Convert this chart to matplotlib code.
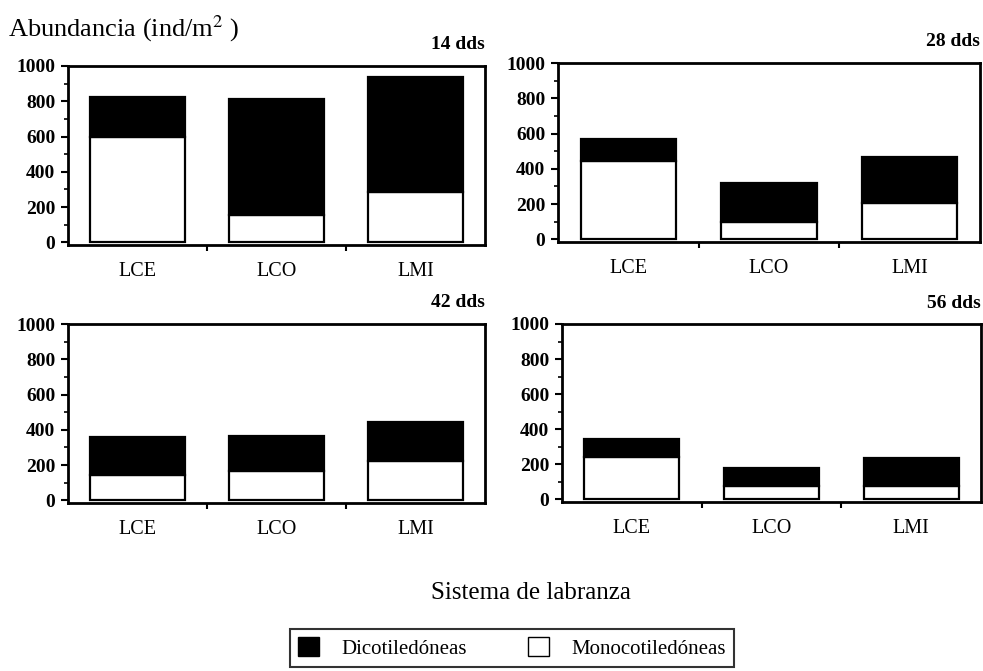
import matplotlib
matplotlib.use("Agg")
import matplotlib.pyplot as plt
from matplotlib.patches import Patch
from matplotlib.ticker import MultipleLocator, FixedLocator

categories = ["LCE", "LCO", "LMI"]
panel_titles = ["14 dds", "28 dds", "42 dds", "56 dds"]
# Monocotiledóneas (bottom, white) and total abundance per panel
mono = [
    [597, 156, 287],
    [447, 100, 208],
    [141, 169, 225],
    [241, 77, 77],
]
total = [
    [822, 812, 938],
    [568, 322, 466],
    [362, 366, 445],
    [345, 179, 235],
]
dico = [[t - m for t, m in zip(tt, mm)] for tt, mm in zip(total, mono)]

W, H = 983, 671
plt.rcParams['font.family'] = ['Liberation Serif', 'DejaVu Serif']
plt.rcParams['mathtext.fontset'] = 'stix'
fig = plt.figure(figsize=(W / 100, H / 100), dpi=100)

# axes boxes in pixel coords: left, right, top, bottom
boxes = [
    (68, 485, 66, 245),
    (558, 980, 63, 242),
    (68, 485, 324, 503),
    (562, 981, 324, 502),
]

x = list(range(len(categories)))
for i, (l, r, t, b) in enumerate(boxes):
    ax = fig.add_axes([l / W, 1 - b / H, (r - l) / W, (b - t) / H])
    ax.bar(x, mono[i], width=0.68, color="white", edgecolor="black", linewidth=1.6)
    ax.bar(x, dico[i], bottom=mono[i], width=0.68, color="black", edgecolor="black", linewidth=1.6)
    ax.set_xlim(-0.5, 2.5)
    ax.set_ylim(-15, 1000)
    ax.set_yticks([0, 200, 400, 600, 800, 1000])
    ax.yaxis.set_minor_locator(MultipleLocator(100))
    ax.set_xticks(x)
    ax.set_xticklabels(categories, fontsize=14.5)
    ax.xaxis.set_minor_locator(FixedLocator([0.5, 1.5]))
    ax.tick_params(axis='x', which='major', length=0, pad=12)
    ax.tick_params(axis='x', which='minor', length=4, width=1.5, direction='out')
    ax.tick_params(axis='y', which='major', length=5, width=1.5, direction='out', pad=4, labelsize=14)
    ax.tick_params(axis='y', which='minor', length=3, width=1.2, direction='out')
    for lab in ax.get_yticklabels():
        lab.set_fontweight('bold')
    for sp in ax.spines.values():
        sp.set_linewidth(2)
    ax.text(1.0, 1.07, panel_titles[i], transform=ax.transAxes, ha='right', va='bottom',
            fontsize=14, fontweight='bold')

fig.text(8 / W, 1 - 29 / H, "Abundancia (ind/m$^{2}$ )", fontsize=19, ha='left', va='center')
fig.text(531 / W, 1 - 593 / H, "Sistema de labranza", fontsize=18, ha='center', va='center')

handles = [Patch(facecolor='black', edgecolor='black', label='Dicotiledóneas'),
           Patch(facecolor='white', edgecolor='black', label='Monocotiledóneas')]
leg = fig.legend(handles=handles, loc='center', bbox_to_anchor=(512 / W, 1 - 648 / H), ncol=2,
                 fontsize=15, frameon=True, fancybox=False, edgecolor='black',
                 handlelength=1.0, handleheight=1.0, columnspacing=2.9, handletextpad=1.1,
                 borderpad=0.4, borderaxespad=0)
leg.get_frame().set_linewidth(1.5)

fig.savefig("out.png", dpi=100)
